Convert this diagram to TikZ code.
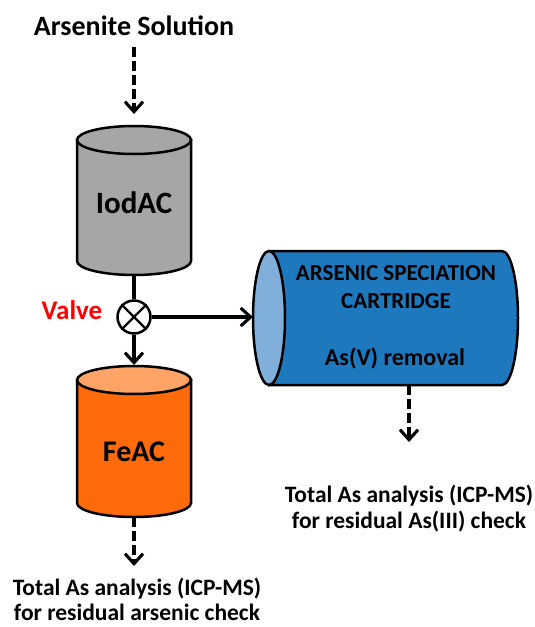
\documentclass[tikz,border=0pt]{standalone}
\usepackage{fontspec}
\setmainfont{Carlito}
\usetikzlibrary{arrows.meta}
\definecolor{iodgray}{HTML}{A6A6A6}
\definecolor{feorange}{HTML}{FF6A0A}
\definecolor{fetop}{HTML}{FFA366}
\definecolor{cartblue}{HTML}{1E78BE}
\definecolor{cartface}{HTML}{80AFDA}
\definecolor{valvered}{HTML}{FF0000}
\tikzset{
  outline/.style={draw=black, line width=2.5pt},
  flow/.style={draw=black, line width=3.1pt, -{Straight Barb[length=10pt,width=18pt,line width=3.1pt]}},
  dashflow/.style={flow, dash pattern=on 10pt off 4pt},
  pipe/.style={draw=black, line width=3.1pt},
  label/.style={font=\bfseries\fontsize{#1}{#1}\selectfont, inner sep=0pt, anchor=base},
}
\begin{document}
\begin{tikzpicture}[x=1pt,y=-1pt]
\useasboundingbox (0,0) rectangle (535,627);

% IodAC column
\path[outline, fill=iodgray] (77,140) -- (77,261) arc (180:0:57 and 14) -- (191,140) -- cycle;
\path[outline, fill=iodgray] (134,140) ellipse (57 and 14);
\coordinate (iodbot) at (134,275);
\node[label=31] (iod) at (134,213) {IodAC};

% FeAC column
\path[outline, fill=feorange] (77,380) -- (77,503) arc (180:0:57 and 14) -- (191,380) -- cycle;
\path[outline, fill=fetop] (134,380) ellipse (57 and 14);
\coordinate (fetopc) at (134,365);
\coordinate (febot) at (134,517);
\node[label=30] (fe) at (134,461) {FeAC};

% Speciation cartridge lying on its side
\path[outline, fill=cartblue] (269,251) -- (502,251) arc (-90:90:16 and 67) -- (269,385) -- cycle;
\path[outline, fill=cartface] (269,318) ellipse (16 and 67);
\coordinate (cartin) at (253,317);
\coordinate (cartbot) at (409,385);
\node[label=23] (cartname1) at (396,280) {ARSENIC SPECIATION};
\node[label=23] (cartname2) at (396,308) {CARTRIDGE};
\node[label=24] (cartrole) at (395,365) {As(V) removal};

% Valve
\node[circle, outline, fill=white, minimum size=33pt, inner sep=0pt] (valve) at (134,317) {};
\draw[line width=2.3pt] (valve.north west) -- (valve.south east);
\draw[line width=2.3pt] (valve.north east) -- (valve.south west);
\node[label=27, text=valvered] (valvelbl) at (72,319) {Valve};

% Texts
\node[label=28] (feed) at (134,35) {Arsenite Solution};
\node[label=23.5] (noteA1) at (137,595) {Total As analysis (ICP-MS)};
\node[label=23.5] (noteA2) at (137,620) {for residual arsenic check};
\node[label=23.5] (noteB1) at (409,502) {Total As analysis (ICP-MS)};
\node[label=23.5] (noteB2) at (409,528) {for residual As(III) check};
\coordinate (feedtop) at (134,47);
\coordinate (feedend) at (134,114);
\coordinate (fedash) at (134,566);
\coordinate (cartdash) at (409,442);

% Connectors
\draw[dashflow] (feedtop) -- (feedend);
\draw[pipe] (iodbot) -- (valve.north);
\draw[flow] (valve.south) -- (fetopc);
\draw[flow] (valve.east) -- (cartin);
\draw[dashflow] (febot) -- (fedash);
\draw[dashflow] (cartbot) -- (cartdash);
\end{tikzpicture}
\end{document}
